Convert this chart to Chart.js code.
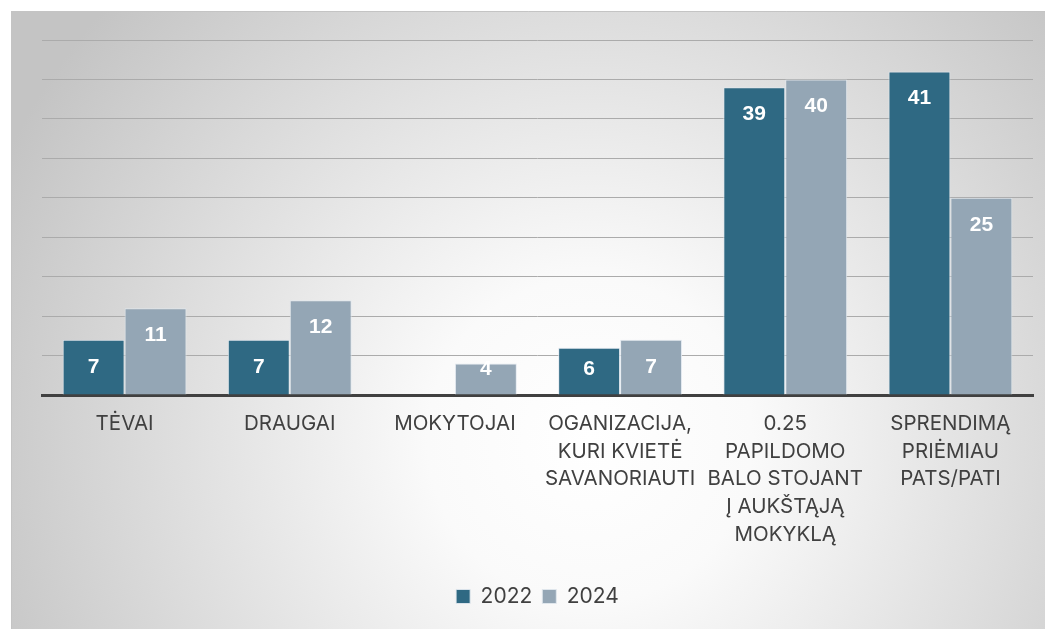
<!DOCTYPE html>
<html>
<head>
<meta charset="utf-8">
<script src="https://cdn.jsdelivr.net/npm/chart.js@4.4.0/dist/chart.umd.min.js"></script>
<style>
  html, body { margin: 0; padding: 0; background: #ffffff; }
  #wrap { width: 1045px; height: 629px; position: relative; }
</style>
</head>
<body>
<div id="wrap"><canvas id="chart"></canvas></div>
<script>
// categories (multi-line, as in the picture)
const categories = [
  ["TĖVAI"],
  ["DRAUGAI"],
  ["MOKYTOJAI"],
  ["OGANIZACIJA,", "KURI KVIETĖ", "SAVANORIAUTI"],
  ["0.25", "PAPILDOMO", "BALO STOJANT", "Į AUKŠTĄJĄ", "MOKYKLĄ"],
  ["SPRENDIMĄ", "PRIĖMIAU", "PATS/PATI"],
];
const values2022 = [7, 7, null, 6, 39, 41];
const values2024 = [11, 12, 4, 7, 40, 25];
const seriesNames = ["2022", "2024"];
const yTicks = { min: 0, max: 45, step: 5 };

// background panel with the soft radial gradient
const panelBackground = {
  id: "panelBackground",
  beforeDraw(chart) {
    const { ctx, width, height } = chart;
    ctx.save();
    const g = ctx.createRadialGradient(590, 440, 0, 590, 440, 650);
    g.addColorStop(0, "#ffffff");
    g.addColorStop(0.25, "#fafafa");
    g.addColorStop(1, "#c4c4c4");
    ctx.fillStyle = g;
    ctx.fillRect(11, 11, width - 11, height - 11);
    ctx.strokeStyle = "#c4c4c4";
    ctx.lineWidth = 1;
    ctx.beginPath();
    ctx.moveTo(11.5, height);
    ctx.lineTo(11.5, 11.5);
    ctx.lineTo(width, 11.5);
    ctx.stroke();
    ctx.restore();
  },
};

// white value labels inside the top of each bar
const valueLabels = {
  id: "valueLabels",
  afterDatasetsDraw(chart) {
    const { ctx } = chart;
    ctx.save();
    ctx.fillStyle = "#ffffff";
    ctx.font = "bold 21px 'Liberation Sans', Arial, sans-serif";
    ctx.textAlign = "center";
    ctx.textBaseline = "middle";
    chart.data.datasets.forEach((ds, i) => {
      chart.getDatasetMeta(i).data.forEach((bar, j) => {
        const v = ds.data[j];
        if (v === null || v === undefined) return;
        const y = Math.min(bar.y + 27, bar.base - 25);
        ctx.fillText(String(v), bar.x, y);
      });
    });
    ctx.restore();
  },
};

new Chart(document.getElementById("chart"), {
  type: "bar",
  data: {
    labels: categories,
    datasets: [
      {
        label: seriesNames[0],
        data: values2022,
        backgroundColor: "#2f6983",
        borderColor: "rgba(225,232,238,0.9)",
        borderWidth: 1,
        categoryPercentage: 0.75,
        barPercentage: 1,
      },
      {
        label: seriesNames[1],
        data: values2024,
        backgroundColor: "#94a6b5",
        borderColor: "rgba(225,232,238,0.9)",
        borderWidth: 1,
        categoryPercentage: 0.75,
        barPercentage: 1,
      },
    ],
  },
  options: {
    responsive: true,
    maintainAspectRatio: false,
    animation: false,
    layout: { padding: { top: 40, left: 42, right: 12, bottom: 12 } },
    scales: {
      x: {
        grid: { display: false, drawTicks: false },
        border: { display: true, color: "#404040", width: 3 },
        ticks: {
          autoSkip: false,
          maxRotation: 0,
          padding: 15,
          color: "#404040",
          font: { family: "Inter, 'Liberation Sans', sans-serif", size: 20.5, lineHeight: 1.35 },
        },
        afterFit(scale) {
          scale.height = 181;
        },
      },
      y: {
        min: yTicks.min,
        max: yTicks.max,
        ticks: { stepSize: yTicks.step, display: false },
        grid: { color: "#ababab", lineWidth: 1, drawTicks: false },
        border: { display: false },
        afterFit(scale) {
          scale.width = 0;
        },
      },
    },
    plugins: {
      legend: {
        position: "bottom",
        labels: {
          color: "#404040",
          boxWidth: 14,
          boxHeight: 14,
          padding: 10,
          font: { family: "Inter, 'Liberation Sans', sans-serif", size: 21 },
        },
      },
      tooltip: { enabled: false },
    },
  },
  plugins: [panelBackground, valueLabels],
});
</script>
</body>
</html>
